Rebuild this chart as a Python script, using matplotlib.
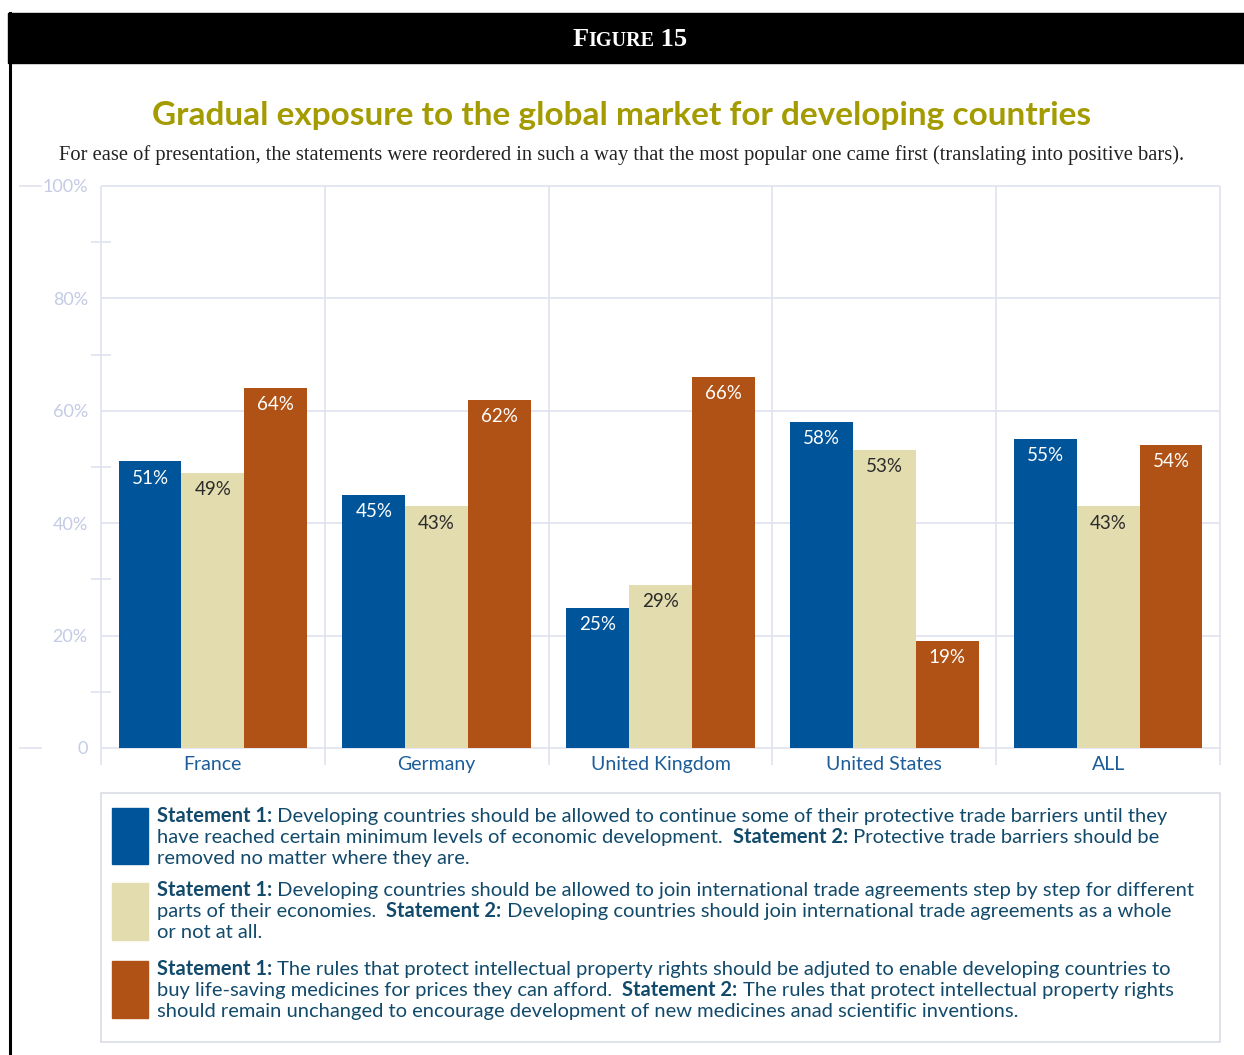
import numpy as np
import matplotlib.pyplot as plt
from matplotlib.patches import Rectangle
from matplotlib.lines import Line2D

countries = ['France', 'Germany', 'United Kingdom', 'United States', 'ALL']
trade_barriers = [51, 45, 25, 58, 55]
step_by_step = [49, 43, 29, 53, 43]
medicines = [64, 62, 66, 19, 54]
y_ticks = [0, 20, 40, 60, 80, 100]
y_tick_labels = ['0', '20%', '40%', '60%', '80%', '100%']
minor_ticks = [10, 30, 50, 70, 90]

title = 'Gradual exposure to the global market for developing countries'
subtitle = ('For ease of presentation, the statements were reordered in such a way that '
            'the most popular one came first (translating into positive bars).')

# legend entries: one list of lines per series, each line a list of (text, bold) runs
legend_blue = [
    [('Statement 1:', True), (' Developing countries should be allowed to continue some of their protective trade barriers until they', False)],
    [('have reached certain minimum levels of economic development.  ', False), ('Statement 2:', True), (' Protective trade barriers should be', False)],
    [('removed no matter where they are.', False)],
]
legend_beige = [
    [('Statement 1:', True), (' Developing countries should be allowed to join international trade agreements step by step for different', False)],
    [('parts of their economies.  ', False), ('Statement 2:', True), (' Developing countries should join international trade agreements as a whole', False)],
    [('or not at all.', False)],
]
legend_rust = [
    [('Statement 1:', True), (' The rules that protect intellectual property rights should be adjuted to enable developing countries to', False)],
    [('buy life-saving medicines for prices they can afford.  ', False), ('Statement 2:', True), (' The rules that protect intellectual property rights', False)],
    [('should remain unchanged to encourage development of new medicines anad scientific inventions.', False)],
]

blue, beige, rust = '#00559a', '#e2dcae', '#b05215'
grid = '#dfe2ef'
tick_col = '#c3cbe5'
cat_col = '#1c5d99'
legend_col = '#124a6b'
W, H = 1244, 1055

fig = plt.figure(figsize=(W / 100, H / 100), dpi=100)
renderer = fig.canvas.get_renderer()


def fx(x):
    return x / W


def fy(y):
    return 1 - y / H


def run_width(s, **kw):
    # width including trailing spaces, measured against a bar glyph
    t = fig.text(0, 0, s + '|', **kw)
    w1 = t.get_window_extent(renderer).width
    t.remove()
    t = fig.text(0, 0, '|', **kw)
    w2 = t.get_window_extent(renderer).width
    t.remove()
    return w1 - w2


def draw_runs(x, y, runs, align='left'):
    widths = [run_width(s, **kw) for s, kw in runs]
    if align == 'center':
        x = x - sum(widths) / 2
    for (s, kw), w in zip(runs, widths):
        fig.text(fx(x), fy(y), s, va='baseline', ha='left', **kw)
        x += w


# header band and left rule
fig.add_artist(Rectangle((fx(8), fy(63)), fx(1244) - fx(8), fy(13) - fy(63),
                         transform=fig.transFigure, color='black'))
fig.add_artist(Line2D([fx(9.5), fx(9.5)], [fy(13), 0], transform=fig.transFigure,
                      color='black', lw=2.2))
big = dict(family='Liberation Serif', weight='bold', color='white', fontsize=19)
small = dict(family='Liberation Serif', weight='bold', color='white', fontsize=14.5)
draw_runs(630, 46, [('F', big), ('IGURE', small), (' 15', big)], align='center')

fig.text(fx(622), fy(115), title, ha='center', va='center', fontsize=24,
         weight='bold', color='#a39b00', family='Lato')
fig.text(fx(622), fy(155), subtitle, ha='center', va='center', fontsize=14.8,
         color='#222222', family='Liberation Serif')

# bar chart
ax = fig.add_axes([fx(101), fy(748), fx(1220) - fx(101), fy(186) - fy(748)])
x = np.arange(len(countries))
bw = 0.281
series = [(-bw, trade_barriers, blue, 'white'),
          (0, step_by_step, beige, '#2b2b2b'),
          (bw, medicines, rust, 'white')]
for off, vals, col, txt_col in series:
    bars = ax.bar(x + off, vals, bw, color=col, zorder=2)
    for b, v in zip(bars, vals):
        ax.annotate(f'{v}%', (b.get_x() + b.get_width() / 2, v), xytext=(0, -12),
                    textcoords='offset points', ha='center', va='center',
                    color=txt_col, fontsize=13.5, family='Lato')

ax.hlines(y_ticks, -0.5, len(countries) - 0.5, color=grid, lw=1.2, zorder=1, clip_on=False)
ax.vlines(np.arange(-0.5, len(countries)), -3, 100, color=grid, lw=1.2, zorder=1, clip_on=False)
for yv in (0, 100):
    ax.plot([-0.0724, -0.0536], [yv, yv], transform=ax.get_yaxis_transform(),
            color=grid, lw=1.2, clip_on=False)

ax.set_xlim(-0.5, len(countries) - 0.5)
ax.set_ylim(0, 100)
for sp in ax.spines.values():
    sp.set_visible(False)
ax.set_xticks(x, countries)
ax.set_yticks(y_ticks, y_tick_labels)
ax.set_yticks(minor_ticks, minor=True)
ax.tick_params(axis='x', length=0, pad=5.5, labelsize=14, labelcolor=cat_col)
ax.tick_params(axis='y', which='major', length=0, pad=9.5, labelsize=13, labelcolor=tick_col)
ax.tick_params(axis='y', which='minor', direction='inout', length=13.7, width=1.2, color=grid)
for lbl in ax.get_xticklabels() + ax.get_yticklabels():
    lbl.set_family('Lato')

# legend panel
fig.add_artist(Rectangle((fx(101), fy(1042)), fx(1220) - fx(101), fy(793) - fy(1042),
                         transform=fig.transFigure, fill=False, edgecolor='#d9dde5', lw=1.2))
reg = dict(family='Lato', fontsize=14.5, color=legend_col)
bold = dict(family='Lato', fontsize=14.5, color=legend_col, weight='bold')
entries = [(blue, 808, 864, legend_blue, 822),
           (beige, 883, 940, legend_beige, 896),
           (rust, 961, 1018, legend_rust, 975)]
for col, top, bottom, lines, base in entries:
    fig.add_artist(Rectangle((fx(112), fy(bottom)), fx(148) - fx(112), fy(top) - fy(bottom),
                             transform=fig.transFigure, color=col))
    for i, line in enumerate(lines):
        draw_runs(157, base + 21 * i, [(s, bold if b else reg) for s, b in line])

fig.savefig('out.png', dpi=100)
